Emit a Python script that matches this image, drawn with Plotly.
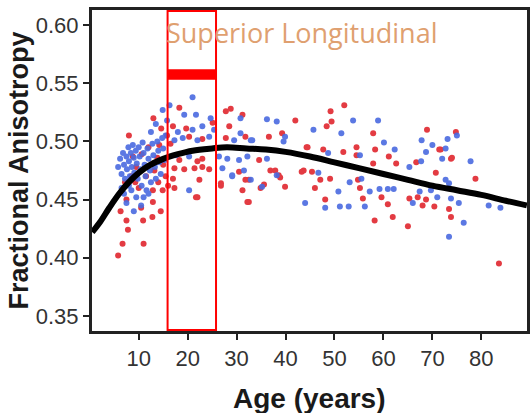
import plotly.graph_objects as go

# ---- data ----
red_age = [8.0, 6.7, 5.8, 11.0, 7.8, 7.5, 10.9, 12.8, 12.9, 10.5, 7.5, 12.9, 14.9, 8.8, 10.6, 14.6,
           6.3, 9.3, 11.5, 13.2, 14.0, 15.5, 12.0, 14.2, 9.5, 7.2, 13.8, 15.0, 16.0, 10.0, 14.5, 15.8,
           13.0, 16.5, 8.5,
           18.3, 27.8, 28.8, 31.2, 42.0, 21.7, 22.4, 26.8, 31.2, 32.5, 39.9, 31.8, 34.9, 36.9, 38.6,
           36.6, 17.0, 19.7, 25.1, 28.5, 20.3, 23.0, 27.8, 31.8, 18.3, 22.0, 23.0, 17.3, 19.3, 21.4,
           23.0, 24.4, 30.5, 17.0, 17.3, 22.0, 26.8, 39.3, 44.3, 34.6, 37.9, 38.9, 43.7, 45.4, 47.1,
           32.5, 35.6, 46.0, 32.2, 48.1,
           52.0, 49.2, 49.4, 48.4, 57.9, 68.9, 74.8, 44.5, 47.7, 51.8, 54.5, 54.5, 58.3, 61.1, 71.7,
           73.8, 57.9, 62.6, 66.7, 43.3, 49.1, 54.8, 55.2, 55.8, 59.6, 60.9, 58.2, 61.9, 65.0, 67.0,
           68.0, 70.4, 70.7, 73.4, 73.8, 78.8, 83.6, 74.0, 68.7, 71.4, 65.3]
red_fa = [0.505, 0.412, 0.402, 0.412, 0.424, 0.432, 0.432, 0.435, 0.448, 0.443, 0.450, 0.458, 0.458,
          0.487, 0.489, 0.511, 0.440, 0.465, 0.470, 0.475, 0.465, 0.470, 0.495, 0.497, 0.478, 0.465,
          0.486, 0.480, 0.462, 0.460, 0.440, 0.505, 0.520, 0.498, 0.470,
          0.529, 0.526, 0.528, 0.523, 0.518, 0.452, 0.467, 0.462, 0.458, 0.448, 0.461, 0.467, 0.460,
          0.475, 0.471, 0.504, 0.513, 0.511, 0.516, 0.513, 0.504, 0.502, 0.503, 0.504, 0.484, 0.483,
          0.485, 0.477, 0.476, 0.477, 0.478, 0.476, 0.474, 0.468, 0.460, 0.452, 0.464, 0.507, 0.495,
          0.484, 0.475, 0.469, 0.475, 0.474, 0.467, 0.467, 0.463, 0.460, 0.448, 0.450,
          0.531, 0.526, 0.517, 0.513, 0.507, 0.510, 0.508, 0.495, 0.493, 0.491, 0.495, 0.488, 0.493,
          0.487, 0.493, 0.485, 0.481, 0.481, 0.482, 0.474, 0.468, 0.467, 0.460, 0.451, 0.452, 0.446,
          0.432, 0.435, 0.427, 0.452, 0.445, 0.444, 0.473, 0.442, 0.435, 0.468, 0.395, 0.486, 0.450,
          0.493, 0.451]

blue_age = [5.8, 6.2, 6.5, 6.8, 7.0, 7.2, 7.5, 7.6, 7.9, 8.0, 8.2, 8.4, 8.6, 8.8, 9.0, 9.1, 9.4, 9.6,
            9.8, 10.0, 10.2, 10.4, 10.6, 10.8, 11.0, 11.2, 11.4, 11.6, 11.8, 12.0, 12.3, 12.5, 12.8,
            13.0, 13.3, 13.5, 13.8, 14.0, 14.2, 14.5, 14.8, 15.0, 15.3, 15.5, 7.0, 7.5, 8.5, 9.5,
            10.5, 9.0, 8.0, 11.0, 6.5, 12.0, 14.9, 16.3, 13.5, 15.8, 12.5,
            21.0, 19.3, 21.7, 24.7, 30.8, 18.0, 21.0, 23.0, 25.4, 30.8, 17.3, 19.0, 22.0, 24.4, 29.5,
            17.6, 20.3, 26.4, 28.1, 30.5, 32.2, 27.1, 29.1, 20.3, 29.1, 32.9, 33.2, 36.2, 38.2, 39.9,
            39.6, 32.9, 36.2, 31.5, 38.2, 46.7, 35.2, 44.0, 48.1,
            53.8, 58.9, 45.7, 51.4, 75.0, 73.1, 67.8, 60.1, 48.7, 55.2, 62.3, 68.7, 72.7, 77.8, 65.3,
            67.7, 53.1, 55.5, 50.8, 57.2, 59.2, 60.9, 62.1, 56.2, 51.1, 52.9, 66.0, 69.7, 71.0, 72.7,
            73.4, 75.4, 76.4, 73.4, 81.5, 83.9, 67.4, 73.8, 70.0, 72.0]
blue_fa = [0.478, 0.485, 0.472, 0.490, 0.480, 0.468, 0.487, 0.476, 0.495, 0.483, 0.470, 0.490, 0.478,
           0.497, 0.486, 0.473, 0.492, 0.481, 0.468, 0.495, 0.487, 0.476, 0.462, 0.499, 0.490, 0.480,
           0.470, 0.458, 0.494, 0.485, 0.475, 0.465, 0.498, 0.488, 0.478, 0.468, 0.500, 0.492, 0.482,
           0.472, 0.503, 0.494, 0.484, 0.505, 0.455, 0.447, 0.458, 0.452, 0.445, 0.440, 0.462, 0.452,
           0.460, 0.455, 0.527, 0.531, 0.515, 0.518, 0.508,
           0.538, 0.523, 0.523, 0.520, 0.520, 0.508, 0.510, 0.513, 0.510, 0.507, 0.501, 0.503, 0.501,
           0.504, 0.501, 0.488, 0.487, 0.487, 0.485, 0.484, 0.487, 0.477, 0.471, 0.458, 0.470, 0.467,
           0.501, 0.519, 0.517, 0.504, 0.500, 0.501, 0.485, 0.475, 0.471, 0.473, 0.461, 0.447, 0.443,
           0.518, 0.518, 0.510, 0.507, 0.505, 0.502, 0.501, 0.499, 0.490, 0.488, 0.493, 0.491, 0.494,
           0.483, 0.478, 0.483, 0.465, 0.468, 0.457, 0.457, 0.459, 0.459, 0.459, 0.444, 0.444, 0.444,
           0.447, 0.458, 0.452, 0.467, 0.464, 0.447, 0.430, 0.418, 0.445, 0.443, 0.457, 0.451, 0.497,
           0.485]

fit_age = [0.5, 2, 4, 6, 8, 10, 12, 15, 18, 21, 25, 28, 32, 36, 40, 45, 50, 55, 60, 65, 70, 75,
           80, 85, 89.3]
fit_fa = [0.422, 0.430, 0.443, 0.455, 0.465, 0.473, 0.479, 0.485, 0.489, 0.492, 0.494, 0.495,
          0.494, 0.493, 0.491, 0.487, 0.482, 0.477, 0.472, 0.467, 0.462, 0.458, 0.454, 0.449, 0.445]

x_ticks = [10, 20, 30, 40, 50, 60, 70, 80]
y_ticks = [0.35, 0.40, 0.45, 0.50, 0.55, 0.60]
y_labels = ["0.35", "0.40", "0.45", "0.50", "0.55", "0.60"]

window_age = [15.9, 25.8]
bar_fa = [0.553, 0.562]
title_text = "Superior Longitudinal"
x_title = "<b>Age (years)</b>"
y_title = "<b>Fractional Anisotropy</b>"

fig = go.Figure()
fig.add_trace(go.Scatter(x=red_age, y=red_fa, mode="markers",
                         marker=dict(color="#e0262e", size=6), opacity=0.9, showlegend=False))
fig.add_trace(go.Scatter(x=blue_age, y=blue_fa, mode="markers",
                         marker=dict(color="#4a6ae0", size=6), opacity=0.9, showlegend=False))
fig.add_trace(go.Scatter(x=fit_age, y=fit_fa, mode="lines", line=dict(color="black", width=6, shape="spline"),
                         showlegend=False))

fig.add_shape(type="rect", xref="x", yref="paper", x0=window_age[0], x1=window_age[1],
              y0=0.003, y1=0.997, line=dict(color="#ff0000", width=2))
fig.add_shape(type="rect", xref="x", yref="y", x0=window_age[0], x1=window_age[1],
              y0=bar_fa[0], y1=bar_fa[1], line=dict(width=0), fillcolor="#ff0000")

fig.add_annotation(text=title_text, xref="paper", yref="paper", x=0.481, y=0.931,
                   xanchor="center", yanchor="middle",
                   showarrow=False, font=dict(family="Open Sans", size=27, color="#dfa070"))

fig.add_annotation(text=x_title, xref="paper", yref="paper", x=0.5, y=-0.209,
                   xanchor="center", yanchor="middle", showarrow=False,
                   font=dict(family="Liberation Sans", size=28, color="#1a1a1a"))
fig.add_annotation(text=y_title, xref="paper", yref="paper", x=-0.168, y=0.5, textangle=-90,
                   xanchor="center", yanchor="middle", showarrow=False,
                   font=dict(family="Liberation Sans", size=27, color="#1a1a1a"))

fig.update_layout(
    width=531, height=413, margin=dict(l=92, r=1, t=10, b=82),
    paper_bgcolor="white", plot_bgcolor="white",
    xaxis=dict(range=[0.46, 89.33], tickvals=x_ticks, ticks="outside", ticklen=6, tickwidth=2,
               tickcolor="#222", showline=True, linecolor="#222", linewidth=3, mirror=True,
               showgrid=False, zeroline=False,
               tickfont=dict(family="Liberation Sans", size=22, color="#333")),
    yaxis=dict(range=[0.3371, 0.6129], tickvals=y_ticks, ticktext=y_labels, ticks="outside", ticklen=6,
               tickwidth=2, tickcolor="#222", showline=True, linecolor="#222", linewidth=3, mirror=True,
               showgrid=False, zeroline=False,
               tickfont=dict(family="Liberation Sans", size=22, color="#333")),
)

fig.write_html("out.html")
